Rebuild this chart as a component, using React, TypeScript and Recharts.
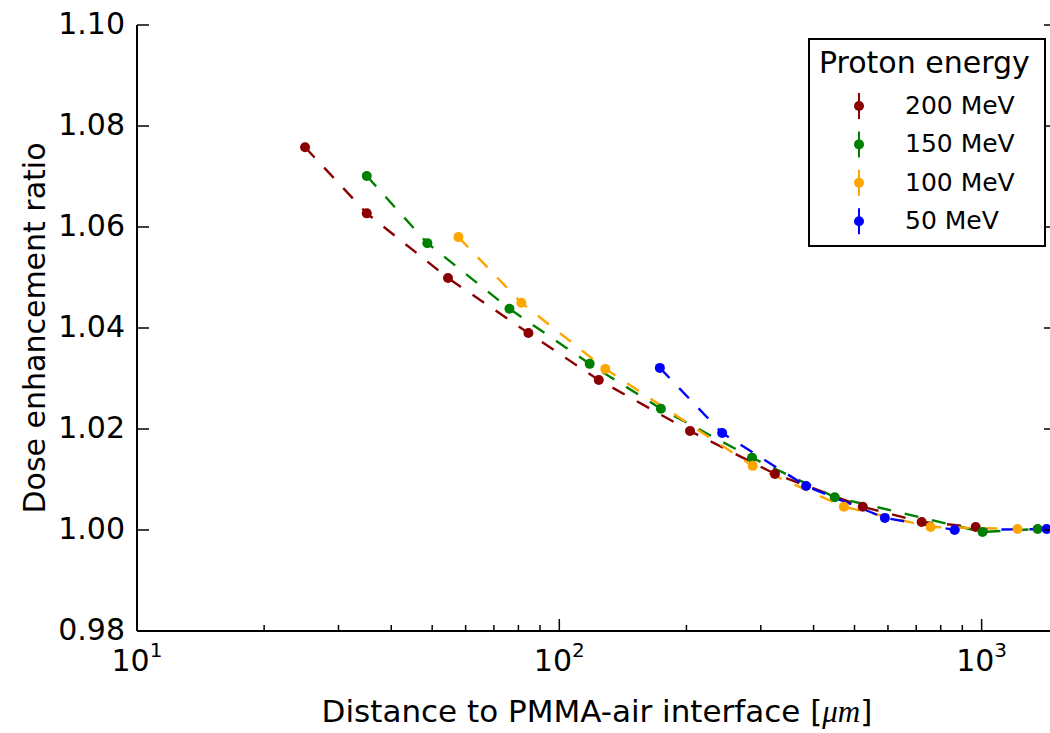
import React from 'react';
import { ComposedChart, Line, XAxis, YAxis } from 'recharts';

// distance [um] and dose enhancement ratio
const x200 = [25, 35, 54.5, 84.5, 124, 204, 324, 523, 721, 968];
const y200 = [1.0758, 1.0627, 1.0499, 1.039, 1.0297, 1.0196, 1.0111, 1.0046, 1.0016, 1.0006];

const x150 = [35, 48.7, 76.2, 118, 174, 286, 449, 1005, 1357];
const y150 = [1.0701, 1.0568, 1.0438, 1.0329, 1.024, 1.0143, 1.0065, 0.9996, 1.0002];

const x100 = [57.7, 81.3, 128.5, 287, 472, 757, 1216];
const y100 = [1.058, 1.045, 1.0319, 1.0127, 1.0046, 1.0006, 1.0002];

const x50 = [173, 243, 384, 590, 863, 1425];
const y50 = [1.0321, 1.0192, 1.0087, 1.0024, 1.0, 1.0002];

const energies = ['200 MeV', '150 MeV', '100 MeV', '50 MeV'];
const colors = ['#8b0000', '#008000', '#ffa500', '#0000ff'];

const xTicks = [10, 20, 30, 40, 50, 60, 70, 80, 90, 100, 200, 300, 400, 500, 600, 700, 800, 900, 1000];
const majorTicks = [10, 100, 1000];
const yTicks = [0.98, 1.0, 1.02, 1.04, 1.06, 1.08, 1.1];

const toPoints = (xs: number[], ys: number[]) => xs.map((x, i) => ({ x, y: ys[i] }));

const series = [
  toPoints(x200, y200),
  toPoints(x150, y150),
  toPoints(x100, y100),
  toPoints(x50, y50),
];

const FONT = 'DejaVu Sans';

const BottomTick = (props: any) => {
  const { x, y, payload } = props;
  const v = payload.value;
  const major = majorTicks.includes(v);
  return (
    <g>
      <line x1={x} x2={x} y1={y} y2={y - (major ? 12 : 6)} stroke="#000" strokeWidth={1.5} />
      {major && (
        <text x={x} y={y + 40} textAnchor="middle" fontSize={30} fontFamily={FONT} fill="#000">
          10
          <tspan fontSize={20} dy={-14}>{Math.round(Math.log10(v))}</tspan>
        </text>
      )}
    </g>
  );
};

const TopTick = (props: any) => {
  const { x, y, payload } = props;
  const major = majorTicks.includes(payload.value);
  return <line x1={x} x2={x} y1={y} y2={y + (major ? 12 : 6)} stroke="#000" strokeWidth={1.5} />;
};

const LeftTick = (props: any) => {
  const { x, y, payload } = props;
  return (
    <g>
      <line x1={x} x2={x + 12} y1={y} y2={y} stroke="#000" strokeWidth={1.5} />
      <text x={x - 12} y={y + 9} textAnchor="end" fontSize={30} fontFamily={FONT} fill="#000">
        {payload.value.toFixed(2)}
      </text>
    </g>
  );
};

const RightTick = (props: any) => {
  const { x, y } = props;
  return <line x1={x} x2={x - 12} y1={y} y2={y} stroke="#000" strokeWidth={1.5} />;
};

const makeDot = (color: string) => (p: any) => {
  if (p.cx == null || p.cy == null) return <g key={p.index} />;
  return <circle key={p.index} cx={p.cx} cy={p.cy} r={5} fill={color} stroke="none" />;
};

const LegendBox = () => (
  <div
    style={{
      position: 'absolute',
      left: 808,
      top: 38,
      width: 234,
      height: 205,
      border: '2px solid #000',
      background: '#fff',
      fontFamily: FONT,
    }}
  >
    <svg width={234} height={205}>
      <text x={9} y={33} fontSize={30} fill="#000">Proton energy</text>
      {energies.map((name, i) => {
        const base = 74 + i * 38.4;
        return (
          <g key={name}>
            <line x1={49} x2={49} y1={base - 21} y2={base + 5} stroke={colors[i]} strokeWidth={2} />
            <circle cx={49} cy={base - 8} r={5} fill={colors[i]} />
            <text x={95} y={base} fontSize={25} fill="#000">{name}</text>
          </g>
        );
      })}
    </svg>
  </div>
);

export default function App() {
  return (
    <div
      style={{
        position: 'fixed',
        left: 0,
        top: 0,
        width: 1050,
        height: 733,
        overflow: 'hidden',
        background: '#fff',
      }}
    >
      <ComposedChart
        width={1057}
        height={733}
        margin={{ top: 25, right: 0, bottom: 0, left: 0 }}
        style={{ fontFamily: FONT }}
      >
        <XAxis
          xAxisId="b"
          type="number"
          scale="log"
          dataKey="x"
          domain={[10, 1500]}
          allowDataOverflow
          ticks={xTicks}
          interval={0}
          tick={<BottomTick />}
          tickLine={false}
          tickSize={0}
          tickMargin={0}
          height={102}
          axisLine={{ stroke: '#000', strokeWidth: 2 }}
          label={{
            content: () => (
              <text x={597} y={722} textAnchor="middle" fontSize={31} fontFamily={FONT} fill="#000">
                Distance to PMMA-air interface [
                <tspan fontFamily="Liberation Serif" fontStyle="italic">μm</tspan>]
              </text>
            ),
          }}
        />
        <XAxis
          xAxisId="t"
          orientation="top"
          type="number"
          scale="log"
          dataKey="x"
          domain={[10, 1500]}
          allowDataOverflow
          ticks={xTicks}
          interval={0}
          tick={<TopTick />}
          tickLine={false}
          tickSize={0}
          tickMargin={0}
          height={0}
          axisLine={{ stroke: '#000', strokeWidth: 2 }}
        />
        <YAxis
          yAxisId="l"
          type="number"
          domain={[0.98, 1.1]}
          allowDataOverflow
          ticks={yTicks}
          interval={0}
          tick={<LeftTick />}
          tickLine={false}
          tickSize={0}
          tickMargin={0}
          width={137}
          axisLine={{ stroke: '#000', strokeWidth: 2 }}
          label={{
            content: () => (
              <text
                x={45}
                y={328}
                transform="rotate(-90 45 328)"
                textAnchor="middle"
                fontSize={30}
                fontFamily={FONT}
                fill="#000"
              >
                Dose enhancement ratio
              </text>
            ),
          }}
        />
        <YAxis
          yAxisId="r"
          orientation="right"
          type="number"
          domain={[0.98, 1.1]}
          allowDataOverflow
          ticks={yTicks}
          interval={0}
          tick={<RightTick />}
          tickLine={false}
          tickSize={0}
          tickMargin={0}
          width={1}
          axisLine={{ stroke: '#000', strokeWidth: 2 }}
        />
        {series.map((data, i) => (
          <Line
            key={energies[i]}
            xAxisId="b"
            yAxisId="l"
            data={data}
            dataKey="y"
            type="linear"
            stroke={colors[i]}
            strokeWidth={2.4}
            strokeDasharray="14 14"
            dot={makeDot(colors[i])}
            activeDot={false}
            isAnimationActive={false}
          />
        ))}
      </ComposedChart>
      <LegendBox />
    </div>
  );
}
